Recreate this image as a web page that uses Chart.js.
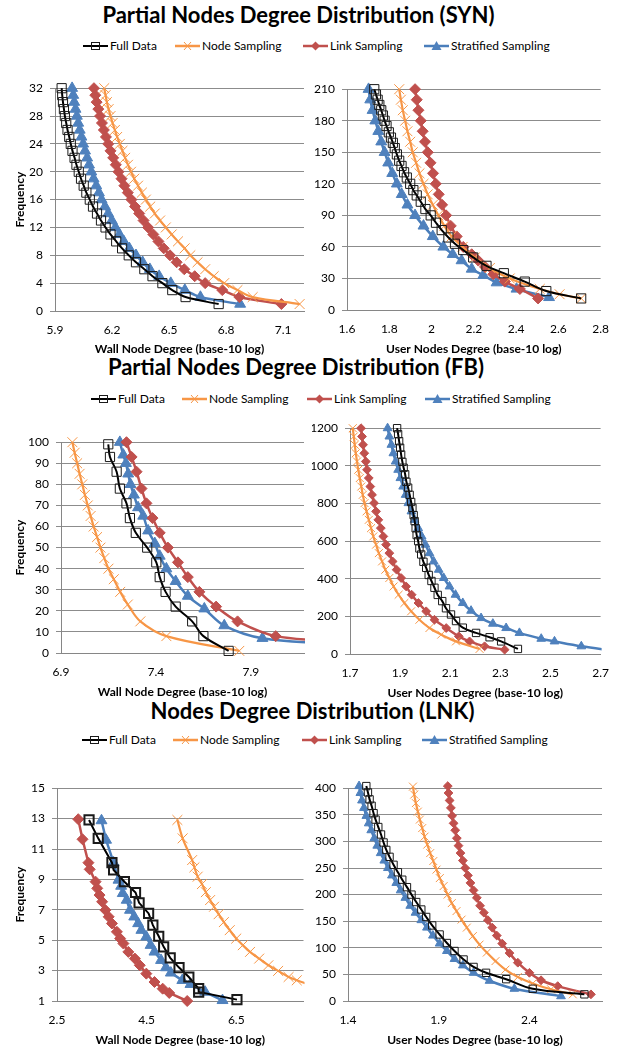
<!DOCTYPE html>
<html><head><meta charset="utf-8">
<script src="https://cdn.jsdelivr.net/npm/chart.js@4.4.1/dist/chart.umd.min.js"></script>
<style>
html,body{margin:0;padding:0;background:#fff;}
body{position:relative;width:621px;height:1047px;overflow:hidden;font-family:Lato,'DejaVu Sans',sans-serif;color:#000;}
.ttl{position:absolute;white-space:nowrap;font-weight:700;font-size:22px;line-height:26.4px;transform:translateX(-50%);}
.lg{position:absolute;height:14px;display:flex;align-items:center;white-space:nowrap;font-size:12px;line-height:14px;}
.lg svg{margin-right:2px;flex:none;}
canvas{position:absolute;}
</style></head><body>
<script>
// ---------- labels ----------
const seriesNames = ['Full Data', 'Node Sampling', 'Link Sampling', 'Stratified Sampling'];
const chartTitles = ['Partial Nodes Degree Distribution (SYN)', 'Partial Nodes Degree Distribution (FB)', 'Nodes Degree Distribution (LNK)'];
const wallAxisTitle = 'Wall Node Degree (base-10 log)';
const userAxisTitle = 'User Nodes Degree (base-10 log)';
const freqTitle = 'Frequency';

// ---------- SYN : wall nodes ----------
const synWallY = [32,31,30,29,28,27,26,25,24,23,22,21,20,19,18,17,16,15,14,13,12,11,10,9,8,7,6,5,4,3,2,1];
const synWallFullX  = [5.935,5.938,5.942,5.947,5.952,5.959,5.966,5.975,5.983,5.992,6.003,6.013,6.025,6.037,6.051,6.065,6.083,6.100,6.121,6.142,6.166,6.192,6.222,6.253,6.288,6.326,6.370,6.413,6.465,6.517,6.587,6.761];
const synWallNodeX  = [6.159,6.166,6.173,6.182,6.192,6.203,6.215,6.227,6.241,6.255,6.269,6.284,6.300,6.317,6.337,6.357,6.378,6.401,6.425,6.453,6.483,6.514,6.547,6.582,6.612,6.650,6.690,6.735,6.790,6.860,6.940,7.187];
const synWallLinkX  = [6.105,6.112,6.119,6.128,6.137,6.147,6.157,6.168,6.180,6.192,6.206,6.220,6.234,6.250,6.265,6.283,6.302,6.321,6.343,6.366,6.390,6.417,6.444,6.472,6.505,6.540,6.580,6.635,6.690,6.780,6.870,7.091];
const synWallStratX = [5.990,5.996,6.001,6.008,6.015,6.022,6.030,6.039,6.048,6.058,6.069,6.079,6.091,6.103,6.117,6.131,6.145,6.163,6.180,6.199,6.218,6.239,6.262,6.291,6.326,6.361,6.399,6.448,6.509,6.583,6.665,6.874];

// ---------- SYN : user nodes ----------
const synUserFullX = [1.729,1.737,1.745,1.753,1.762,1.770,1.778,1.787,1.798,1.808,1.817,1.826,1.836,1.847,1.858,1.870,1.883,1.899,1.914,1.930,1.949,1.971,1.996,2.021,2.048,2.080,2.111,2.150,2.197,2.260,2.342,2.441,2.543,2.708];
const synUserFullY = [210,205,200,195,190,185,180,175,169,164,159,154,148,142,137,131,126,120,114,109,103,96,90,83,76,69,63,57,50,42,35,27,18,11];
const synUserNodeX = [1.847,1.855,1.864,1.875,1.886,1.899,1.911,1.927,1.943,1.962,1.982,2.006,2.032,2.061,2.095,2.147,2.205,2.276,2.370,2.512,2.606,2.708];
const synUserNodeY = [210,200,190,180,170,160,150,140,130,120,110,100,90,80,70,60,50,40,30,20,15,11];
const synUserLinkX = [1.922,1.930,1.938,1.949,1.958,1.969,1.982,1.995,2.007,2.020,2.034,2.050,2.069,2.091,2.119,2.150,2.190,2.221,2.253,2.292,2.347,2.418,2.504];
const synUserLinkY = [210,200,190,180,170,160,150,140,130,120,110,100,90,80,70,60,53,47,41,34,27,20,11];
const synUserStratX = [1.702,1.710,1.721,1.734,1.748,1.762,1.778,1.795,1.814,1.836,1.859,1.886,1.922,1.962,2.006,2.056,2.100,2.142,2.190,2.245,2.308,2.402,2.556];
const synUserStratY = [210,200,190,180,170,160,150,140,130,120,110,100,90,80,70,60,53,47,39,33,26,20,12];

// ---------- FB : wall nodes ----------
const fbWallFullX = [7.149,7.158,7.193,7.210,7.245,7.263,7.294,7.354,7.402,7.420,7.451,7.504,7.591,7.650,7.783];
const fbWallFullY = [99,93,86,78,71,64,57,50,43,36,29,22,15,8,1];
const fbWallNodeX = [6.960,6.972,6.985,6.998,7.012,7.026,7.041,7.056,7.072,7.090,7.108,7.128,7.150,7.178,7.212,7.252,7.318,7.455,7.839];
const fbWallNodeY = [100,95,90,85,80,75,70,65,60,55,50,45,40,35,29,23,15,8,1];
const fbWallLinkX = [7.245,7.272,7.298,7.324,7.350,7.382,7.420,7.463,7.516,7.568,7.629,7.717,7.830,8.031,8.450];
const fbWallLinkY = [100,93,86,78,71,64,57,50,43,36,29,22,15,8,5];
const fbWallStratX = [7.210,7.228,7.242,7.254,7.266,7.284,7.306,7.333,7.359,7.394,7.420,7.455,7.504,7.568,7.655,7.760,7.961,8.400];
const fbWallStratY = [100,94,90,85,80,75,69,65,58,52,46,40,34,27,21,13,7,4];

// ---------- FB : user nodes ----------
const fbUserFullX = [1.888,1.892,1.896,1.900,1.904,1.909,1.914,1.920,1.925,1.932,1.938,1.944,1.949,1.954,1.958,1.962,1.966,1.972,1.977,1.984,1.993,2.004,2.014,2.025,2.037,2.050,2.068,2.083,2.103,2.123,2.150,2.203,2.257,2.303,2.370];
const fbUserFullY = [1200,1168,1131,1096,1060,1021,990,955,915,884,846,808,777,738,706,668,632,600,561,529,490,458,420,388,352,314,281,243,210,175,140,112,89,67,27];
const fbUserNodeX = [1.711,1.715,1.719,1.723,1.728,1.733,1.739,1.745,1.751,1.758,1.766,1.775,1.784,1.793,1.804,1.815,1.828,1.841,1.857,1.874,1.894,1.917,1.944,1.977,2.017,2.064,2.123,2.217];
const fbUserNodeY = [1200,1156,1112,1067,1023,979,935,890,846,802,758,713,669,625,581,536,492,448,404,359,315,271,227,182,138,103,67,27];
const fbUserLinkX = [1.744,1.748,1.752,1.757,1.763,1.768,1.775,1.781,1.788,1.796,1.804,1.813,1.823,1.833,1.844,1.857,1.870,1.886,1.904,1.924,1.946,1.973,2.004,2.037,2.084,2.134,2.177,2.237,2.317];
const fbUserLinkY = [1200,1156,1112,1067,1023,979,935,890,846,802,758,713,669,625,581,536,492,448,404,359,315,271,227,182,138,94,67,41,23];
const fbUserStratX = [1.850,1.857,1.865,1.873,1.882,1.892,1.901,1.912,1.922,1.933,1.945,1.958,1.972,1.986,2.001,2.017,2.034,2.054,2.074,2.097,2.121,2.150,2.183,2.223,2.270,2.323,2.376,2.463,2.516,2.623,2.750];
const fbUserStratY = [1200,1156,1112,1067,1023,979,935,890,846,802,758,713,669,625,581,536,492,448,404,359,315,271,230,191,161,138,112,81,67,41,18];

// ---------- LNK : wall nodes ----------
const lnkWallFullX = [3.215,3.420,3.726,3.763,4.004,4.252,4.332,4.544,4.639,4.770,4.880,5.026,5.223,5.442,5.661,5.661,6.515];
const lnkWallFullY = [12.91,11.70,10.10,9.62,8.85,8.14,7.46,6.76,5.99,5.26,4.56,3.84,3.20,2.58,1.81,1.59,1.09];
const lnkWallNodeX = [5.186,5.303,5.515,5.566,5.639,5.734,5.821,5.916,6.004,6.106,6.223,6.354,6.500,6.646,6.807,7.011,7.216,7.434,7.668,7.850,8.250];
const lnkWallNodeY = [12.91,11.70,10.27,9.79,9.18,8.69,8.16,7.64,7.20,6.71,6.19,5.66,5.11,4.67,4.23,3.79,3.35,2.98,2.58,2.36,1.97];
const lnkWallLinkX = [2.974,3.069,3.201,3.230,3.361,3.398,3.449,3.507,3.580,3.653,3.726,3.836,3.909,3.982,4.091,4.237,4.347,4.493,4.675,4.858,5.004,5.405];
const lnkWallLinkY = [12.96,11.64,10.10,9.66,8.85,8.41,7.97,7.53,6.98,6.54,6.10,5.55,5.11,4.78,4.23,3.79,3.35,2.80,2.25,1.81,1.53,1.00];
const lnkWallStratX = [3.493,3.595,3.763,3.872,3.931,3.967,4.055,4.128,4.223,4.310,4.383,4.493,4.588,4.675,4.821,4.931,5.040,5.296,5.478,5.806,6.193];
const lnkWallStratY = [12.87,11.59,10.10,8.96,8.56,8.08,7.64,6.98,6.54,6.10,5.66,5.22,4.67,4.23,3.68,3.20,2.85,2.36,2.10,1.59,1.04];

// ---------- LNK : user nodes ----------
const lnkUserFullX = [1.501,1.510,1.519,1.530,1.541,1.552,1.567,1.582,1.596,1.611,1.629,1.651,1.675,1.699,1.725,1.750,1.776,1.804,1.831,1.864,1.905,1.945,1.987,2.037,2.092,2.161,2.272,2.418,2.703];
const lnkUserFullY = [404,392,379,367,353,341,327,313,298,284,271,256,242,228,214,200,186,172,158,142,125,109,94,78,64,53,41,23,12.5];
const lnkUserNodeX = [1.758,1.765,1.774,1.785,1.796,1.809,1.822,1.837,1.853,1.870,1.888,1.906,1.927,1.949,1.972,1.998,2.026,2.055,2.088,2.125,2.165,2.213,2.268,2.336,2.418,2.519,2.639];
const lnkUserNodeY = [403,388,372,356,341,325,309,294,278,263,247,231,216,200,184,169,153,138,122,106,91,75,59,45,33,22,12.5];
const lnkUserLinkX = [1.950,1.954,1.960,1.967,1.974,1.982,1.991,2.000,2.009,2.020,2.033,2.046,2.061,2.075,2.092,2.110,2.128,2.149,2.171,2.195,2.220,2.250,2.290,2.336,2.400,2.464,2.556,2.739];
const lnkUserLinkY = [404,391,377,363,348,334,321,306,292,278,264,250,236,222,208,194,179,166,152,138,123,108,90,72,53,39,28,12.5];
const lnkUserStratX = [1.461,1.468,1.477,1.488,1.501,1.514,1.528,1.545,1.561,1.580,1.600,1.620,1.642,1.666,1.690,1.716,1.743,1.772,1.804,1.835,1.868,1.905,1.945,1.987,2.033,2.092,2.180,2.317,2.574];
const lnkUserStratY = [404,391,377,363,348,334,321,306,292,278,264,250,236,222,208,194,179,166,152,138,123,108,94,79,67,53,38,23,9];

// ---------- tick labels ----------
const synWallXTicks = [5.9,6.2,6.5,6.8,7.1];
const synWallYTicks = [0,4,8,12,16,20,24,28,32];
const synUserXTicks = [1.6,1.8,2,2.2,2.4,2.6,2.8];
const synUserYTicks = [0,30,60,90,120,150,180,210];
const fbWallXTicks = [6.9,7.4,7.9];
const fbWallYTicks = [0,10,20,30,40,50,60,70,80,90,100];
const fbUserXTicks = [1.7,1.9,2.1,2.3,2.5,2.7];
const fbUserYTicks = [0,200,400,600,800,1000,1200];
const lnkWallXTicks = [2.5,4.5,6.5];
const lnkWallYTicks = [1,3,5,7,9,11,13,15];
const lnkUserXTicks = [1.4,1.9,2.4];
const lnkUserYTicks = [0,50,100,150,200,250,300,350,400];

// ---------- styles ----------
const STY = [
  {line:'#000000', lw:2,   ps:'rect',     r:6.5, fill:'rgba(0,0,0,0)', stroke:'#1a1a1a', bw:1},
  {line:'#F79646', lw:2.2, ps:'crossRot', r:7,   fill:'#F79646', stroke:'#F79646', bw:1},
  {line:'#C0504D', lw:2.5, ps:'rectRot',  r:5.5, fill:'#C0504D', stroke:'#C0504D', bw:1},
  {line:'#4A7EBB', lw:2.5, ps:'triangle', r:6.3, fill:'#4F81BD', stroke:'#4F81BD', bw:1}
];
const FONT = 'Lato';
const fmt = v => String(Number(Number(v).toFixed(2)));

function makePanel(cfg) {
  const cv = document.createElement('canvas');
  const top = cfg.plot.t - 14;
  const H = cfg.plot.b - top + cfg.xh;
  cv.width = cfg.w; cv.height = H;
  cv.style.left = cfg.left + 'px'; cv.style.top = top + 'px';
  cv.style.width = cfg.w + 'px'; cv.style.height = H + 'px';
  document.body.appendChild(cv);
  const padL = cfg.yTitle ? 13 : 0;
  const yw = cfg.plot.l - cfg.left - padL;
  const padR = cfg.left + cfg.w - cfg.plot.r;
  const ms = cfg.ms || 1;
  const datasets = cfg.series.map((s, i) => {
    const st = STY[i];
    const ten = cfg.tension ? cfg.tension[i] : 0.35;
    return {
      label: seriesNames[i],
      data: s.x.map((x, k) => ({x: x, y: s.y[k]})),
      showLine: true, fill: false,
      borderColor: st.line, borderWidth: st.lw, tension: ten,
      pointStyle: st.ps, pointRadius: st.r * ms, pointHoverRadius: st.r * ms,
      pointBackgroundColor: st.fill, pointBorderColor: st.stroke,
      pointBorderWidth: (i === 0 && cfg.sqbw) ? cfg.sqbw : st.bw,
      clip: {left: 14, top: 14, right: 1, bottom: 14}
    };
  });
  const tickFont = {family: FONT, size: 12};
  const titleFont = {family: FONT, size: 12, weight: 'bold'};
  new Chart(cv, {
    type: 'scatter',
    data: {datasets},
    options: {
      responsive: false, animation: false, devicePixelRatio: 1,
      layout: {padding: {top: 14, left: padL, right: padR, bottom: 0}},
      plugins: {legend: {display: false}, tooltip: {enabled: false}},
      scales: {
        x: {
          type: 'linear', position: 'bottom', min: cfg.xMin, max: cfg.xMax,
          afterBuildTicks: sc => { sc.ticks = cfg.xTicks.map(v => ({value: v})); },
          afterFit: sc => { sc.height = cfg.xh; },
          grid: {display: false, drawTicks: false},
          border: {display: true, color: '#868686', width: 1},
          ticks: {padding: 12, font: tickFont, color: '#000', autoSkip: false, maxRotation: 0, callback: v => fmt(v)},
          title: {display: true, text: cfg.xTitle, font: titleFont, color: '#000', padding: {top: 0, bottom: 0}}
        },
        y: {
          type: 'linear', position: 'left', min: cfg.yMin, max: cfg.yMax,
          afterBuildTicks: sc => { sc.ticks = cfg.yTicks.map(v => ({value: v})); },
          afterFit: sc => { sc.width = yw; },
          grid: {display: true, color: '#8c8c8c', lineWidth: 1, drawTicks: true, tickLength: 5},
          border: {display: true, color: '#868686', width: 1},
          ticks: {padding: 7, font: tickFont, color: '#000', autoSkip: false, callback: v => fmt(v)},
          title: {display: !!cfg.yTitle, text: cfg.yTitle || '', font: titleFont, color: '#000', padding: {top: 0, bottom: 0}}
        }
      }
    }
  });
}

// ---------- titles & legends ----------
function addTitle(text, cx, top) {
  const d = document.createElement('div');
  d.className = 'ttl'; d.textContent = text;
  d.style.left = cx + 'px'; d.style.top = top + 'px';
  document.body.appendChild(d);
}
const legendSvg = [
  '<line x1="0" y1="7" x2="25" y2="7" stroke="#000" stroke-width="2"/><rect x="8.5" y="3.5" width="8" height="7" fill="none" stroke="#1a1a1a" stroke-width="1"/>',
  '<line x1="0" y1="7" x2="25" y2="7" stroke="#F79646" stroke-width="2.5"/><path d="M9 3 L16 11 M16 3 L9 11" stroke="#F79646" stroke-width="1"/>',
  '<line x1="0" y1="7" x2="25" y2="7" stroke="#C0504D" stroke-width="2.5"/><polygon points="12.5,2.5 17,7 12.5,11.5 8,7" fill="#C0504D"/>',
  '<line x1="0" y1="7" x2="25" y2="7" stroke="#4A7EBB" stroke-width="2.5"/><polygon points="12.5,2 17.5,11 7.5,11" fill="#4F81BD"/>'
];
function addLegend(xs, cy) {
  seriesNames.forEach((name, i) => {
    const d = document.createElement('div');
    d.className = 'lg';
    d.style.left = xs[i] + 'px'; d.style.top = (cy - 7) + 'px';
    d.innerHTML = '<svg width="25" height="14" viewBox="0 0 25 14">' + legendSvg[i] + '</svg>';
    const sp = document.createElement('span'); sp.textContent = name;
    d.appendChild(sp);
    document.body.appendChild(d);
  });
}

addTitle(chartTitles[0], 298.5, 2);
addTitle(chartTitles[1], 296, 354);
addTitle(chartTitles[2], 312.5, 698);
addLegend([83, 175, 303, 424], 46);
addLegend([91, 182, 307, 425], 399);
addLegend([82, 173, 302, 422], 740);

// ---------- panels ----------
makePanel({left: 0, w: 312, plot: {l: 55, t: 88, r: 307, b: 311}, xh: 45,
  xMin: 5.9, xMax: 7.21, yMin: 0, yMax: 32, xTicks: synWallXTicks, yTicks: synWallYTicks,
  xTitle: wallAxisTitle, yTitle: freqTitle,
  series: [{x: synWallFullX, y: synWallY}, {x: synWallNodeX, y: synWallY}, {x: synWallLinkX, y: synWallY}, {x: synWallStratX, y: synWallY}]});
makePanel({left: 312, w: 309, plot: {l: 347, t: 89, r: 601, b: 310}, xh: 46,
  xMin: 1.6, xMax: 2.8, yMin: 0, yMax: 210, xTicks: synUserXTicks, yTicks: synUserYTicks,
  xTitle: userAxisTitle,
  series: [{x: synUserFullX, y: synUserFullY}, {x: synUserNodeX, y: synUserNodeY}, {x: synUserLinkX, y: synUserLinkY}, {x: synUserStratX, y: synUserStratY}]});
makePanel({left: 0, w: 312, plot: {l: 61, t: 442, r: 306, b: 653}, xh: 46,
  xMin: 6.9, xMax: 8.18, yMin: 0, yMax: 100, xTicks: fbWallXTicks, yTicks: fbWallYTicks,
  xTitle: wallAxisTitle, yTitle: freqTitle,
  series: [{x: fbWallFullX, y: fbWallFullY}, {x: fbWallNodeX, y: fbWallNodeY}, {x: fbWallLinkX, y: fbWallLinkY}, {x: fbWallStratX, y: fbWallStratY}]});
makePanel({left: 312, w: 309, plot: {l: 350, t: 428, r: 601, b: 654}, xh: 46, ms: 0.8,
  xMin: 1.7, xMax: 2.7, yMin: 0, yMax: 1200, xTicks: fbUserXTicks, yTicks: fbUserYTicks,
  xTitle: userAxisTitle,
  series: [{x: fbUserFullX, y: fbUserFullY}, {x: fbUserNodeX, y: fbUserNodeY}, {x: fbUserLinkX, y: fbUserLinkY}, {x: fbUserStratX, y: fbUserStratY}]});
makePanel({left: 0, w: 312, plot: {l: 57, t: 788, r: 308, b: 1001}, xh: 46, sqbw: 2, tension: [0, 0.3, 0, 0],
  xMin: 2.5, xMax: 8, yMin: 1, yMax: 15, xTicks: lnkWallXTicks, yTicks: lnkWallYTicks,
  xTitle: wallAxisTitle, yTitle: freqTitle,
  series: [{x: lnkWallFullX, y: lnkWallFullY}, {x: lnkWallNodeX, y: lnkWallNodeY}, {x: lnkWallLinkX, y: lnkWallLinkY}, {x: lnkWallStratX, y: lnkWallStratY}]});
makePanel({left: 312, w: 309, plot: {l: 348, t: 788, r: 602, b: 1001}, xh: 46, ms: 0.8,
  xMin: 1.4, xMax: 2.8, yMin: 0, yMax: 400, xTicks: lnkUserXTicks, yTicks: lnkUserYTicks,
  xTitle: userAxisTitle,
  series: [{x: lnkUserFullX, y: lnkUserFullY}, {x: lnkUserNodeX, y: lnkUserNodeY}, {x: lnkUserLinkX, y: lnkUserLinkY}, {x: lnkUserStratX, y: lnkUserStratY}]});
</script>
</body></html>
